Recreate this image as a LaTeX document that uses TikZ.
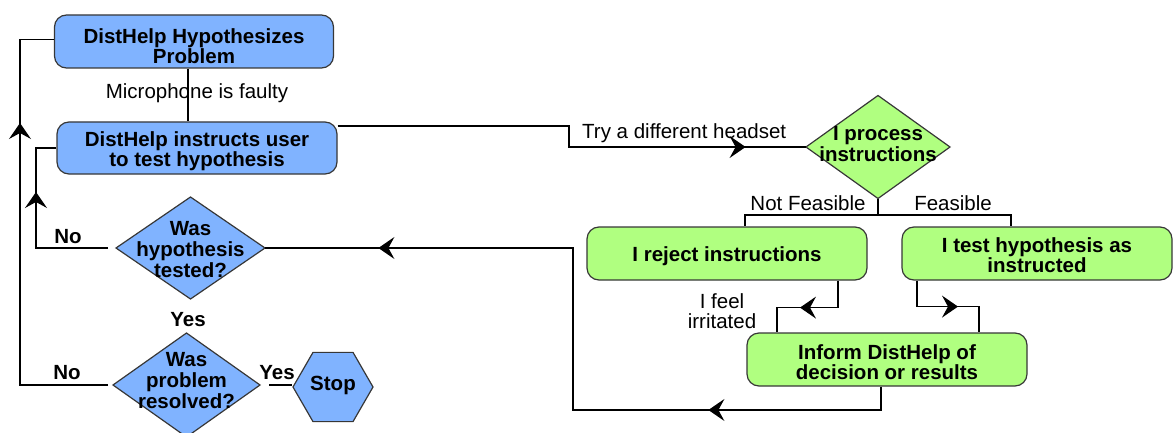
\documentclass[tikz,border=0pt]{standalone}
\usepackage{fontspec}
\setmainfont{Liberation Sans}
\usetikzlibrary{arrows.meta,shapes.geometric,decorations.markings}
\definecolor{bfill}{RGB}{128,179,255}
\definecolor{gfill}{RGB}{176,255,128}
\definecolor{edge}{RGB}{55,55,55}
\begin{document}
\begin{tikzpicture}[x=1pt,y=-1pt,
  font=\fontsize{20.5}{20}\selectfont,
  box/.style={draw=edge, line width=1.2pt, rounded corners=12pt, inner sep=0pt},
  bluebox/.style={box, fill=bfill},
  greenbox/.style={box, fill=gfill},
  btext/.style={inner sep=0pt, align=center, font=\fontsize{20.5}{20}\selectfont\bfseries},
  dia/.style={draw=edge, line width=1.2pt, shape=diamond, inner sep=0pt, outer sep=0pt},
  dtext/.style={inner sep=0pt, align=center, font=\fontsize{20.5}{21}\selectfont\bfseries},
  flow/.style={draw=black, line width=1.2pt},
  tipA/.tip={Stealth[length=16pt,width=22pt,inset=6pt]},
  amark/.style={postaction={decorate,decoration={markings,mark=at position #1 with {\arrow{tipA}}}}},
  lbl/.style={inner sep=0pt, align=center},
  blbl/.style={inner sep=0pt, font=\fontsize{20.5}{20}\selectfont\bfseries}
]
\useasboundingbox (0,0) rectangle (1175,433);

% nodes
\node[bluebox, minimum width=279, minimum height=53,
      label={[btext,yshift=-4.5]center:DistHelp Hypothesizes\\Problem}] (hyp) at (194,41.5) {};
\node[bluebox, minimum width=280, minimum height=52,
      label={[btext,yshift=-3]center:DistHelp instructs user\\to test hypothesis}] (ins) at (197,148) {};
\node[dia, fill=bfill, minimum width=149, minimum height=102,
      label={[dtext,yshift=-1.5]center:Was\\hypothesis\\tested?}] (d1) at (190.5,248) {};
\node[dia, fill=bfill, minimum width=147, minimum height=104,
      label={[dtext,yshift=4]center:Was\\problem\\resolved?}] (d2) at (186.5,385) {};
\node[draw=edge, line width=1.2pt, fill=bfill, regular polygon, regular polygon sides=6,
      minimum size=80, inner sep=0pt,
      label={[btext,yshift=2]center:Stop}] (stop) at (333,387) {};
\node[dia, fill=gfill, minimum width=144, minimum height=103,
      label={[dtext,yshift=3]center:I process\\instructions}] (gd) at (878,147) {};
\node[greenbox, minimum width=280, minimum height=53,
      label={[btext,yshift=-3]center:I reject instructions}] (rej) at (727,253.5) {};
\node[greenbox, minimum width=270, minimum height=53,
      label={[btext,yshift=-1.5]center:I test hypothesis as\\instructed}] (tst) at (1037,253.5) {};
\node[greenbox, minimum width=280, minimum height=53,
      label={[btext,yshift=-2.5]center:Inform DistHelp of\\decision or results}] (inf) at (887,359.5) {};

% helper coordinates
\coordinate (mx) at (188,0);
\coordinate (c1) at (569,126);
\coordinate (br) at (878,215);
\coordinate (c4) at (573,410);
\coordinate (c5) at (36,0);
\coordinate (c6) at (20,0);
\coordinate (h1) at ([yshift=2]hyp.west);

% connectors
\draw[flow] (hyp.south -| mx) -- (ins.north -| mx);
\draw[flow, amark=429pt] ([yshift=22]ins.east) -- (c1) |- (gd.west);
\draw[flow] (gd.south) -- (br) -| ([xshift=18]rej.north);
\draw[flow] (br) -| ([xshift=-26]tst.north);
\draw[flow, amark=65pt] ([xshift=111]rej.south) -- ++(0,27) -| ([xshift=-110]inf.north);
\draw[flow, amark=67pt] ([xshift=-120]tst.south) -- ++(0,26) -| ([xshift=92]inf.north);
\draw[flow, amark=196pt, amark=688pt] ([xshift=-6]inf.south) |- (c4) |- (d1.east);
\draw[flow, amark=128pt] ([xshift=-8]d1.west) -| (c5 |- ins.west) -- (ins.west);
\draw[flow, amark=350pt] ([xshift=-5]d2.west) -| (c6 |- h1) -- (h1);
\draw[flow] ([xshift=9]d2.east) -- (d2.east -| stop.west);

% labels
\node[lbl] (mic) at (197,93) {Microphone is faulty};
\node[lbl, anchor=west] (try) at (582,133) {Try a different headset};
\node[lbl] (nf) at (808,203) {Not Feasible};
\node[lbl] (fe) at (953,203) {Feasible};
\node[lbl] (irr) at (722,311) {I feel\\irritated};
\node[blbl] (no1) at (68,237) {No};
\node[blbl] (no2) at (67,373) {No};
\node[blbl] (yes1) at (188,320) {Yes};
\node[blbl] (yes2) at (277,373) {Yes};
\end{tikzpicture}
\end{document}
